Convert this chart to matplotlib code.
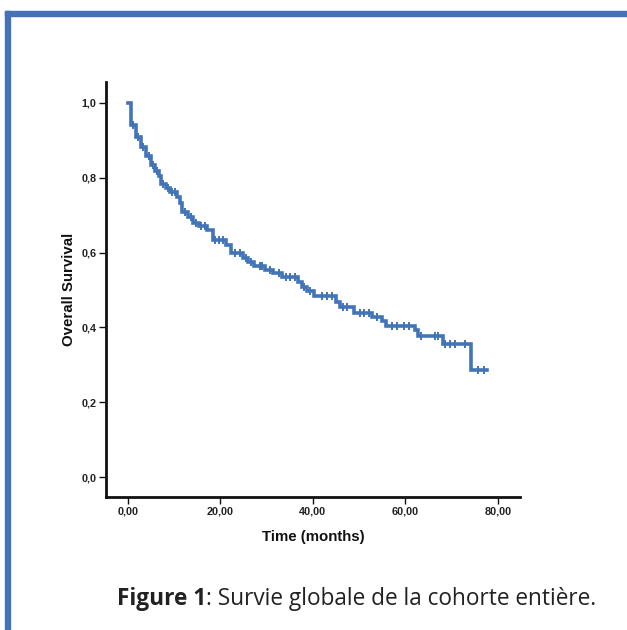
import numpy as np
import matplotlib.pyplot as plt
from matplotlib.patches import Rectangle
from matplotlib import font_manager as fm

# Kaplan-Meier step points (time in months, survival after the step)
step_times = [0, 0.7, 1.7, 2.9, 3.9, 5.0, 5.8, 6.8, 7.2, 8.2, 9.1, 10.6, 11.3, 11.8,
              13.0, 14.1, 15.5, 17.1, 18.4, 21.2, 22.3, 25.0, 26.1, 27.2, 29.7, 31.5,
              33.3, 36.7, 37.6, 38.8, 40.3, 45.0, 45.9, 49.0, 52.9, 54.9, 55.8, 62.0,
              62.8, 68.2, 74.2]
survival = [1.0, 0.941, 0.908, 0.881, 0.858, 0.834, 0.818, 0.805, 0.783, 0.772, 0.761,
            0.749, 0.732, 0.709, 0.696, 0.678, 0.671, 0.660, 0.634, 0.620, 0.598, 0.587,
            0.576, 0.565, 0.553, 0.545, 0.534, 0.522, 0.507, 0.497, 0.485, 0.469, 0.454,
            0.440, 0.427, 0.418, 0.405, 0.393, 0.376, 0.355, 0.286]
last_time = 77.6

# censored observations
censor_times = [1.2, 2.3, 3.4, 4.5, 5.4, 6.3, 7.7, 8.7, 9.6, 10.2, 12.3, 13.6, 14.8,
                15.9, 16.7, 18.9, 19.8, 20.5, 23.2, 24.3, 25.6, 26.7, 28.5, 29.0, 30.8,
                32.6, 34.2, 35.1, 36.1, 38.2, 39.5, 41.9, 43.0, 44.2, 46.5, 47.4, 50.2,
                51.1, 52.2, 53.8, 57.1, 58.3, 59.8, 60.8, 63.4, 66.4, 67.1, 68.6, 69.7,
                70.8, 72.9, 75.7, 77.0]

x_ticks = [0, 20, 40, 60, 80]
y_ticks = [0.0, 0.2, 0.4, 0.6, 0.8, 1.0]


def arial_bold(size):
    # regular-width Liberation Sans Bold (not the Narrow variant)
    for f in fm.fontManager.ttflist:
        if f.name == "Liberation Sans" and f.weight in (700, "bold") \
                and "Narrow" not in f.fname:
            return fm.FontProperties(fname=f.fname, size=size)
    return fm.FontProperties(family="DejaVu Sans", weight="bold", size=size)


blue = "#4274B8"
fig = plt.figure(figsize=(6.27, 6.30), dpi=100)

# frame decoration (top and left blue bands)
fig.patches.append(Rectangle((5 / 627, 1 - 16 / 630), 1, 5.5 / 630,
                             transform=fig.transFigure, color="#4472B4", zorder=0))
fig.patches.append(Rectangle((5 / 627, 0), 5.5 / 627, 1 - 10.5 / 630,
                             transform=fig.transFigure, color="#4472B4", zorder=0))

ax = fig.add_axes([106 / 627, 133 / 630, 414 / 627, 415 / 630])

t = np.array(step_times + [last_time])
s = np.array(survival + [survival[-1]])
ax.step(t, s, where="post", color=blue, lw=2.6, solid_joinstyle="miter")

ct = np.array(censor_times)
idx = np.searchsorted(np.array(step_times), ct, side="right") - 1
cs = np.array(survival)[idx]
ax.plot(ct, cs, linestyle="none", marker="|", markersize=6, mew=1.4, color=blue)

ax.set_xlim(-4.7, 84.8)
ax.set_ylim(-0.053, 1.056)
tick_fp = arial_bold(7.8)
ax.set_xticks(x_ticks)
ax.set_yticks(y_ticks)
ax.set_xticklabels([f"{v:.2f}".replace(".", ",") for v in x_ticks],
                   fontproperties=tick_fp, color="#222222")
ax.set_yticklabels([f"{v:.1f}".replace(".", ",") for v in y_ticks],
                   fontproperties=tick_fp, color="#222222")

for sp in ["top", "right"]:
    ax.spines[sp].set_visible(False)
for sp in ["left", "bottom"]:
    ax.spines[sp].set_linewidth(2)
    ax.spines[sp].set_color("#111111")

ax.tick_params(axis="both", direction="out", length=5, width=1, color="#111111", pad=2)

label_fp = arial_bold(10.8)
ax.set_xlabel("Time (months)", fontproperties=label_fp, color="#111111", labelpad=9.5)
ax.set_ylabel("Overall Survival", fontproperties=label_fp, color="#111111", labelpad=4)

# caption
cap1 = fig.text(117 / 627, 1 - 599 / 630, "Figure 1", fontsize=16.3, fontweight="bold",
                fontfamily="Open Sans", color="#222222", va="center", ha="left")
fig.canvas.draw()
bb = cap1.get_window_extent()
fig.text(bb.x1 / fig.bbox.width, 1 - 599 / 630, ": Survie globale de la cohorte entière.",
         fontsize=16.3, fontfamily="Open Sans", color="#222222", va="center", ha="left")

fig.savefig("out.png", dpi=100)
